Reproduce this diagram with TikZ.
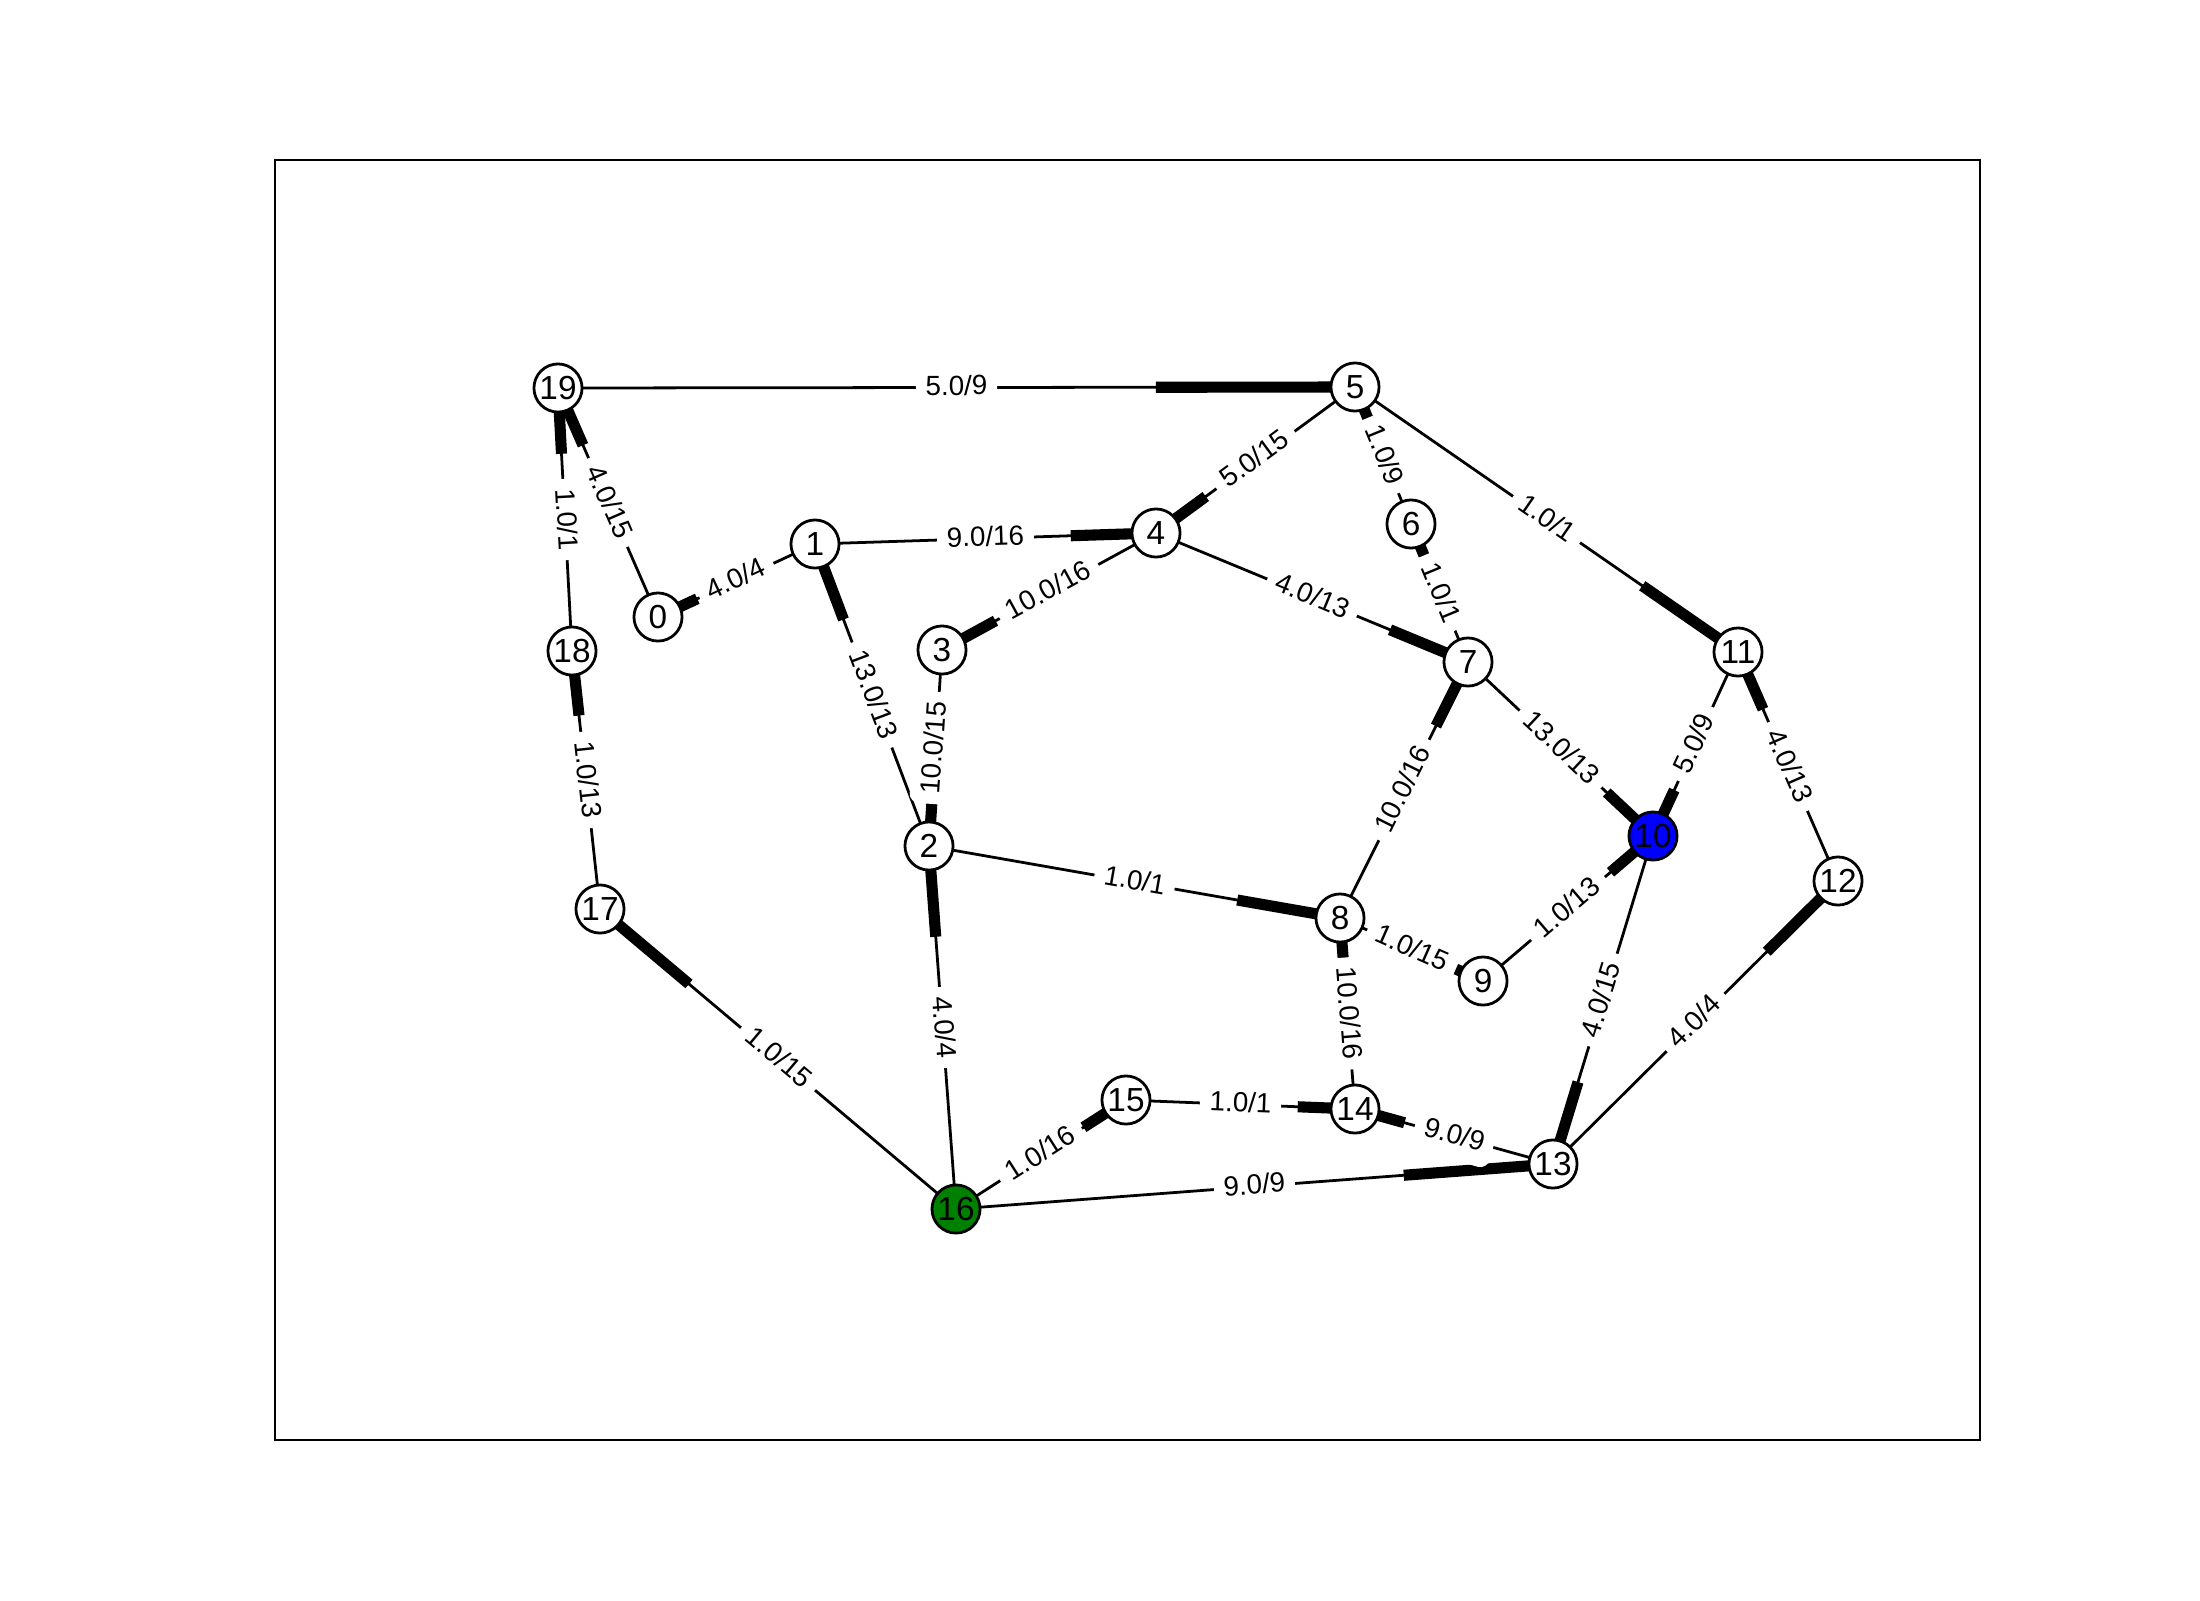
\documentclass[tikz,border=0pt]{standalone}
\usepackage{fontspec}
\setmainfont{Liberation Sans}
\usetikzlibrary{calc}
\pgfdeclarelayer{edgelayer}
\pgfdeclarelayer{labellayer}
\pgfsetlayers{edgelayer,labellayer,main}
\definecolor{mplgreen}{rgb}{0,0.5,0}
\definecolor{mplblue}{rgb}{0,0,1}
\begin{document}
\begin{tikzpicture}[x=0.36pt,y=-0.36pt,
  vertex/.style={circle,draw,line width=1pt,minimum size=17.32pt,inner sep=0pt,fill=white,font=\fontsize{12}{14}\selectfont},
  edgeline/.style={line width=1pt},
  headline/.style={line width=4pt},
  elabel/.style={fill=white,draw=white,line width=1pt,rounded corners=3pt,inner xsep=3pt,inner ysep=3pt,text height=7.4pt,text depth=2pt,font=\fontsize{10}{12}\selectfont,sloped,midway},
  frame/.style={draw,line width=0.8pt}]
\useasboundingbox (0,0) rectangle (2200,1600);
\node[frame,minimum width=613.8pt,minimum height=460.8pt,inner sep=0pt] (axes) at (1127.5,800) {};

\node[vertex] (n0) at (658,617) {0};
\node[vertex] (n1) at (815,544) {1};
\node[vertex] (n2) at (929,846) {2};
\node[vertex] (n3) at (942,650) {3};
\node[vertex] (n4) at (1156,533) {4};
\node[vertex] (n5) at (1355,387) {5};
\node[vertex] (n6) at (1411,524) {6};
\node[vertex] (n7) at (1468,662) {7};
\node[vertex] (n8) at (1340,918) {8};
\node[vertex] (n9) at (1483,981) {9};
\node[vertex,fill=mplblue] (n10) at (1653,836) {10};
\node[vertex] (n11) at (1738,652) {11};
\node[vertex] (n12) at (1838,881) {12};
\node[vertex] (n13) at (1553,1164) {13};
\node[vertex] (n14) at (1355,1109) {14};
\node[vertex] (n15) at (1126,1100) {15};
\node[vertex,fill=mplgreen] (n16) at (956,1209) {16};
\node[vertex] (n17) at (600,909) {17};
\node[vertex] (n18) at (572,651) {18};
\node[vertex] (n19) at (558,388) {19};

\foreach \s/\t/\a/\b in {19/5/5.0/9, 0/19/4.0/15, 18/19/1.0/1, 1/0/4.0/4, 1/4/9.0/16,
  2/1/13.0/13, 4/3/10.0/16, 5/4/5.0/15, 4/7/4.0/13, 6/5/1.0/9, 7/6/1.0/1, 5/11/1.0/1,
  3/2/10.0/15, 8/7/10.0/16, 7/10/13.0/13, 11/10/5.0/9, 12/11/4.0/13, 2/8/1.0/1,
  8/9/1.0/15, 9/10/1.0/13, 10/13/4.0/15, 13/12/4.0/4, 14/8/10.0/16, 16/2/4.0/4,
  17/18/1.0/13, 16/17/1.0/15, 16/15/1.0/16, 15/14/1.0/1, 13/14/9.0/9, 16/13/9.0/9}{
  \begin{pgfonlayer}{edgelayer}
    \draw[edgeline] (n\s.center) -- (n\t.center);
    \draw[headline] ($(n\s.center)!0.75!(n\t.center)$) -- (n\t.center);
  \end{pgfonlayer}
  \begin{pgfonlayer}{labellayer}
    \path (n\s.center) -- node[elabel] {\a/\b} (n\t.center);
  \end{pgfonlayer}
}
\end{tikzpicture}
\end{document}
